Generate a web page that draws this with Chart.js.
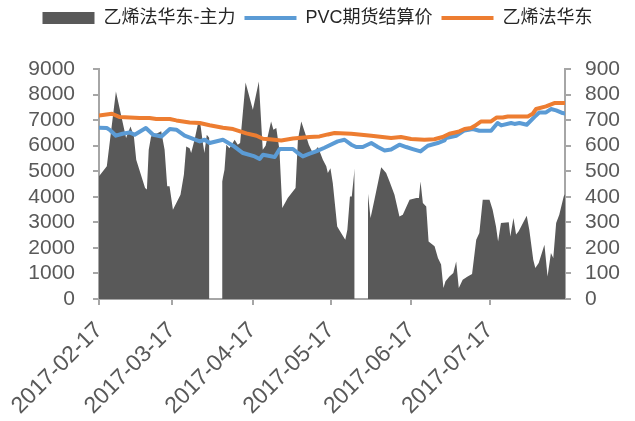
<!DOCTYPE html>
<html><head><meta charset="utf-8">
<script src="https://cdn.jsdelivr.net/npm/chart.js@4.4.0/dist/chart.umd.min.js"></script>
<style>html,body{margin:0;padding:0;background:#fff}</style>
</head><body>
<canvas id="c" width="635" height="421"></canvas>
<script>
// Series names (legend)
const seriesNames = ['乙烯法华东-主力', 'PVC期货结算价', '乙烯法华东'];
// Date-axis tick labels
const xTickLabels = ['2017-02-17', '2017-03-17', '2017-04-17', '2017-05-17', '2017-06-17', '2017-07-17'];
// x values are days since 2017-02-17; null = no data (holiday)
const spreadDays = [0,3,6.5,10.4,12.1,13.4,14.3,17.7,18.4,19.1,20,23.9,25.2,26.2,27.1,28.4,31.3,32.6,33.5,34.8,35.4,36.7,38.2,39,39.9,40.5,41.4,42.4,
  44.8,
  47.3,48.2,48.9,50.1,52.1,53.3,54.2,56.3,59.1,61.4,62.9,64,66.1,67,68.1,69.3,70.4,72.5,75.5,76.4,77.7,80,80.6,82.1,84.1,86,87.3,87.9,88.9,89.8,91.5,93,94.6,95.4,96.4,97.1,98.2,
  100.8,
  103.3,104.3,105.8,108.4,110.3,111.6,113.5,115.4,116.7,119.3,121.9,122.9,123.5,124.4,125.7,126.6,128.9,130.2,131.4,132.3,133.1,134.6,136.1,137.2,138.2,139.7,141.6,143.3,144.9,146.1,147.4,150,151.2,152.5,153.3,154.4,157.4,158,159.2,160.2,161.2,164.3,165.3,166.8,167.6,168.9,171.1,172.3,173.6,174.5,175.6,176.8,178.5,179];
const spreadValues = [480,519,812,630,675,636,545,434,428,584,636,656,584,441,441,349,408,486,597,590,571,623,695,680,610,571,643,630,
  null,
  460,506,604,590,623,604,610,847,741,851,584,600,695,662,669,584,356,395,434,623,695,623,604,571,595,545,519,493,512,454,284,258,232,271,401,401,512,
  null,
  415,317,388,516,493,460,408,323,330,388,395,395,460,376,362,225,206,160,135,43,69,88,102,147,43,75,88,98,232,258,388,388,349,284,225,297,300,245,317,252,265,326,270,154,121,141,212,88,180,160,297,330,401,410];
const pvcDays = [0,3,4.1,6.5,9,11.7,13.7,18,20.8,24,27.2,29.7,32.9,38.7,40.6,42.5,47.6,51.5,55.3,59.8,61.7,63,67.5,69.4,74.5,76.4,78.3,80.9,83.4,86.6,91.7,94.3,96.9,98.8,101.3,104.6,107.1,109.7,112.2,115.4,118,120.5,123.5,126.3,130.1,132.7,133.3,137.2,140.4,143.6,146.1,150.6,153.1,154.5,158.3,159.6,161.5,164.3,167.2,169.1,171.7,173.6,175.6,178.1,179];
const pvcValues = [6700,6690,6620,6390,6467,6518,6428,6690,6428,6362,6651,6624,6389,6166,6232,6103,6232,5998,5712,5580,5477,5645,5555,5868,5868,5712,5580,5685,5775,5920,6166,6232,6037,5947,5947,6103,5947,5814,5850,6037,5947,5868,5775,5998,6103,6205,6299,6389,6596,6651,6584,6584,6886,6792,6886,6850,6886,6819,7120,7300,7300,7433,7380,7277,7260];
const ethDays = [0,5,8,15.6,19.4,22,27.2,29.7,34.8,38.7,42.5,47.6,51.5,56.6,60.5,63,65.5,70,74.5,80.9,84.7,87.9,90.5,96.9,104.6,112.2,116,119.9,125,128.8,132,134.6,138.4,140.4,142.9,144.2,146.8,150.6,152.8,155.1,157,164.7,166.6,167.9,171.7,174.9,179];
const ethValues = [7183,7250,7120,7081,7081,7042,7042,6988,6910,6884,6800,6700,6651,6480,6389,6271,6250,6205,6283,6338,6362,6440,6494,6467,6389,6299,6338,6260,6232,6250,6338,6467,6557,6651,6690,6768,6948,6948,7105,7105,7144,7144,7250,7433,7535,7668,7668];

const FAMILY = '"Liberation Sans", Arial, "Noto Sans CJK SC", sans-serif';
const dayOf = s => (Date.parse(s) - Date.parse(xTickLabels[0])) / 864e5;
const tickDays = xTickLabels.map(dayOf);
const pts = (xs, ys) => xs.map((x, i) => ({ x: x, y: ys[i] }));
const AXIS = '#a6a6a6';
const TICK = '#595959';

// make the legend band taller so the plot starts lower, legend stays at top
const legendBand = {
  id: 'legendBand',
  beforeUpdate(chart) {
    const lg = chart.legend;
    if (lg && !lg.__patched) {
      const fit = lg.fit.bind(lg);
      lg.fit = function () { fit(); this.height = 69; };
      lg.__patched = true;
    }
  }
};

new Chart(document.getElementById('c'), {
  type: 'line',
  plugins: [legendBand],
  data: {
    datasets: [
      { label: seriesNames[0], data: pts(spreadDays, spreadValues), yAxisID: 'y1',
        backgroundColor: '#595959', borderColor: '#595959', borderWidth: 0,
        fill: 'origin', pointRadius: 0, tension: 0, order: 3, pointStyle: 'rect', spanGaps: false },
      { label: seriesNames[1], data: pts(pvcDays, pvcValues), yAxisID: 'y',
        borderColor: '#5B9BD5', backgroundColor: '#5B9BD5', borderWidth: 4, fill: false,
        pointRadius: 0, tension: 0, order: 2, pointStyle: 'line',
        borderJoinStyle: 'round', borderCapStyle: 'round' },
      { label: seriesNames[2], data: pts(ethDays, ethValues), yAxisID: 'y',
        borderColor: '#ED7D31', backgroundColor: '#ED7D31', borderWidth: 4, fill: false,
        pointRadius: 0, tension: 0, order: 1, pointStyle: 'line',
        borderJoinStyle: 'round', borderCapStyle: 'round' }
    ]
  },
  options: {
    responsive: false, animation: false, devicePixelRatio: 1,
    layout: { padding: 0 },
    plugins: {
      legend: {
        position: 'top',
        labels: {
          usePointStyle: true, pointStyleWidth: 52, boxHeight: 12, padding: 9,
          color: '#262626', font: { size: 18, family: FAMILY },
          sort: (a, b) => a.datasetIndex - b.datasetIndex
        }
      },
      tooltip: { enabled: false }
    },
    scales: {
      x: {
        type: 'linear', min: 0, max: 179,
        afterBuildTicks: ax => { ax.ticks = tickDays.map(v => ({ value: v })); },
        afterFit: s => { s.height = 122; },
        ticks: { autoSkip: false, maxRotation: 45, minRotation: 45, padding: 12, color: TICK,
          font: { size: 23, family: FAMILY }, callback: (v, i) => xTickLabels[i] },
        grid: { drawOnChartArea: false, drawTicks: true, tickLength: 6, color: AXIS, lineWidth: 2 },
        border: { color: AXIS, width: 2 }
      },
      y: {
        position: 'left', min: 0, max: 9000,
        ticks: { stepSize: 1000, autoSkip: false, color: TICK, font: { size: 21, family: FAMILY }, padding: 18,
          callback: v => String(v) },
        grid: { drawOnChartArea: false, drawTicks: true, tickLength: 6, color: AXIS, lineWidth: 2 },
        border: { color: AXIS, width: 2 },
        afterFit: s => { s.width = 99; }
      },
      y1: {
        position: 'right', min: 0, max: 900,
        ticks: { stepSize: 100, autoSkip: false, color: TICK, font: { size: 21, family: FAMILY }, padding: 14,
          callback: v => String(v) },
        grid: { drawOnChartArea: false, drawTicks: true, tickLength: 6, color: AXIS, lineWidth: 2 },
        border: { color: AXIS, width: 2 },
        afterFit: s => { s.width = 70; }
      }
    }
  }
});
</script>
</body></html>
